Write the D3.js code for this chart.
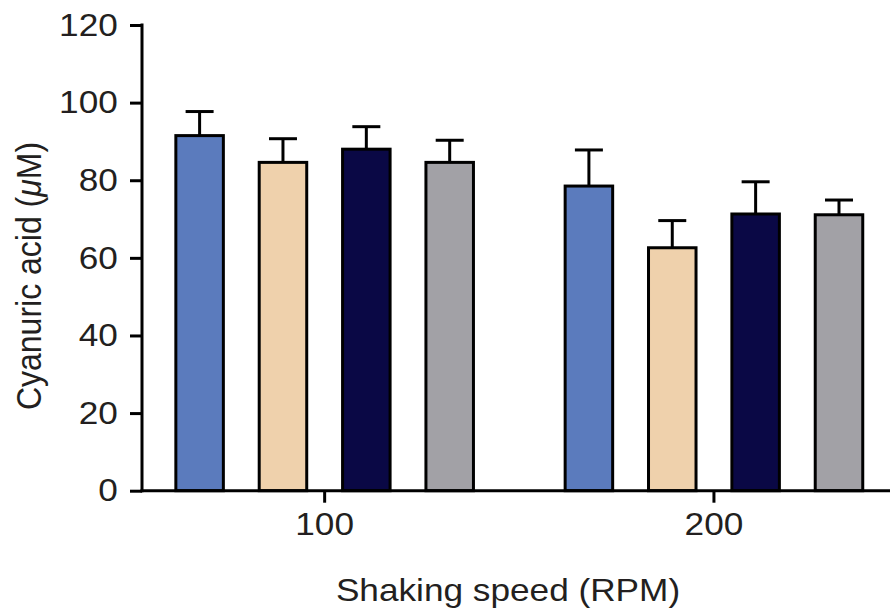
<!DOCTYPE html>
<head>
  <meta charset="utf-8">
  <script src="https://d3js.org/d3.v7.min.js"></script>
  <style>
    body { margin:0; background:#fff; }
    svg { display:block; }
    text { font-family: "Liberation Sans", Arial, sans-serif; fill:#231f20; }
  </style>
</head>
<body>
<div id="chart"></div>
<script>

  // shaking speeds on the x axis, four conditions per speed
  var speeds = ["100", "200"];
  var series = ["s1", "s2", "s3", "s4"];
  var colors = ["#5b7bbd", "#efd1ac", "#0a0845", "#a2a1a6"];

  // mean cyanuric acid (uM) per speed, in series order
  var means100 = [91.5, 84.6, 88.0, 84.6];
  var means200 = [78.5, 62.6, 71.3, 71.1];
  // upper error (SD)
  var err100 = [6.2, 6.1, 5.8, 5.7];
  var err200 = [9.3, 7.0, 8.3, 3.8];

  var yTicks = [0, 20, 40, 60, 80, 100, 120];

  var width = 891, height = 608;
  var xStretch = 1.1;   // text in this figure is set a bit wide

  var rows = [];
  speeds.forEach(function(s, i) {
    var m = i == 0 ? means100 : means200;
    var e = i == 0 ? err100 : err200;
    series.forEach(function(k, j) {
      rows.push({speed: s, key: k, color: colors[j], mean: m[j], err: e[j]});
    });
  });

  var svg = d3.select("#chart").append("svg")
    .attr("width", width)
    .attr("height", height);

  var axisX = 142, axisRight = 890;

  var y = d3.scaleLinear().domain([0, 120]).range([490.7, 25]);

  var x0 = d3.scaleBand().domain(speeds).range([130, 908.6]).padding(0);
  var x1 = d3.scaleBand().domain(series).range([0, x0.bandwidth()])
    .paddingInner(0.43).paddingOuter(0.55);

  // bars
  var g = svg.append("g");
  g.selectAll("rect")
    .data(rows)
    .enter().append("rect")
      .attr("x", function(d) { return x0(d.speed) + x1(d.key); })
      .attr("y", function(d) { return y(d.mean); })
      .attr("width", x1.bandwidth())
      .attr("height", function(d) { return y(0) - y(d.mean); })
      .attr("fill", function(d) { return d.color; })
      .attr("stroke", "#000")
      .attr("stroke-width", 3);

  // error bars, upper half only
  var capW = 28;
  var eb = g.selectAll("g.err")
    .data(rows)
    .enter().append("g")
      .attr("class", "err")
      .attr("transform", function(d) {
        return "translate(" + (x0(d.speed) + x1(d.key) + x1.bandwidth() / 2) + ",0)";
      });
  eb.append("line")
    .attr("x1", 0).attr("x2", 0)
    .attr("y1", function(d) { return y(d.mean); })
    .attr("y2", function(d) { return y(d.mean + d.err); })
    .attr("stroke", "#000").attr("stroke-width", 3);
  eb.append("line")
    .attr("x1", -capW / 2).attr("x2", capW / 2)
    .attr("y1", function(d) { return y(d.mean + d.err); })
    .attr("y2", function(d) { return y(d.mean + d.err); })
    .attr("stroke", "#000").attr("stroke-width", 3);

  // y axis
  var yAxis = svg.append("g")
    .attr("transform", "translate(" + axisX + ",0)")
    .call(d3.axisLeft(y).tickValues(yTicks).tickSize(12).tickSizeOuter(0).tickPadding(10));
  yAxis.select(".domain").remove();
  yAxis.append("line")
    .attr("x1", 0).attr("x2", 0)
    .attr("y1", y(120) - 1.5).attr("y2", y(0) + 1.5)
    .attr("stroke", "#000").attr("stroke-width", 3);
  yAxis.selectAll(".tick line").attr("stroke", "#000").attr("stroke-width", 3);
  yAxis.selectAll(".tick text")
    .attr("font-size", 32)
    .attr("font-family", "Liberation Sans, Arial, sans-serif")
    .attr("fill", "#231f20")
    .attr("transform", "scale(" + xStretch + ",1)");

  // x axis
  var xAxis = svg.append("g")
    .attr("transform", "translate(0," + y(0) + ")")
    .call(d3.axisBottom(x0).tickSize(12).tickSizeOuter(0).tickPadding(10));
  xAxis.select(".domain").remove();
  xAxis.append("line")
    .attr("x1", axisX - 1.5).attr("x2", axisRight)
    .attr("y1", 0).attr("y2", 0)
    .attr("stroke", "#000").attr("stroke-width", 3);
  xAxis.selectAll(".tick line").attr("stroke", "#000").attr("stroke-width", 3);
  xAxis.selectAll(".tick text")
    .attr("font-size", 32)
    .attr("font-family", "Liberation Sans, Arial, sans-serif")
    .attr("fill", "#231f20")
    .attr("transform", "scale(" + xStretch + ",1)");

  // axis titles
  svg.append("g")
    .attr("transform", "translate(508,601)")
    .append("text")
      .attr("text-anchor", "middle")
      .attr("font-size", 32)
      .attr("transform", "scale(" + xStretch + ",1)")
      .text("Shaking speed (RPM)");

  var yt = svg.append("g")
    .attr("transform", "translate(41,276) rotate(-90)")
    .append("text")
      .attr("text-anchor", "middle")
      .attr("font-size", 32)
      .attr("transform", "scale(1," + xStretch + ")");
  yt.append("tspan").text("Cyanuric acid (");
  yt.append("tspan").attr("font-style", "italic").text("\u03bc");
  yt.append("tspan").text("M)");

</script>
</body>
